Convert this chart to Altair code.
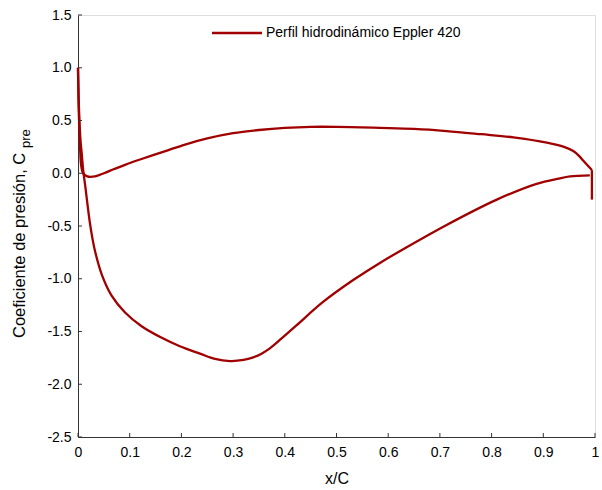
import altair as alt
import pandas as pd

# Suction side (lower curve), leading edge -> trailing edge
suction_x = [0.0, 0.002, 0.005, 0.007, 0.010, 0.014, 0.018, 0.023, 0.028, 0.033, 0.046,
             0.065, 0.091, 0.123, 0.162, 0.197, 0.236, 0.265, 0.294, 0.32, 0.339,
             0.355, 0.371, 0.395, 0.423, 0.474, 0.533, 0.584, 0.629, 0.713, 0.81,
             0.887, 0.93, 0.952, 0.99]
suction_cp = [1.0, 0.6, 0.3, 0.2, 0.03, -0.12, -0.28, -0.47, -0.62, -0.74, -0.96,
              -1.16, -1.32, -1.45, -1.56, -1.64, -1.71, -1.76, -1.78, -1.77, -1.745,
              -1.71, -1.66, -1.56, -1.44, -1.22, -1.01, -0.85, -0.72, -0.49, -0.25,
              -0.10, -0.05, -0.03, -0.02]

# Pressure side (upper curve), leading edge -> trailing edge
pressure_x = [0.0, 0.001, 0.002, 0.004, 0.006, 0.010, 0.018, 0.033, 0.05, 0.07,
              0.091, 0.12, 0.175, 0.2, 0.25, 0.3, 0.35, 0.4, 0.45, 0.5,
              0.584, 0.65, 0.713, 0.78, 0.842, 0.907, 0.94, 0.958, 0.97, 0.977,
              0.994]
pressure_cp = [1.0, 0.7, 0.5, 0.25, 0.08, 0.0, -0.03, -0.03, 0.0, 0.04,
               0.08, 0.13, 0.22, 0.26, 0.33, 0.38, 0.41, 0.43, 0.44, 0.44,
               0.43, 0.42, 0.40, 0.37, 0.34, 0.29, 0.25, 0.21, 0.16, 0.12,
               0.03]

# Trailing-edge closing segment
te_x = [0.994, 0.994]
te_cp = [0.03, -0.25]

x_ticks = [0, 0.1, 0.2, 0.3, 0.4, 0.5, 0.6, 0.7, 0.8, 0.9, 1.0]
y_ticks = [-2.5, -2.0, -1.5, -1.0, -0.5, 0.0, 0.5, 1.0, 1.5]
legend_label = "Perfil hidrodinámico Eppler 420"
y_title_main = "Coeficiente de presión, C"
y_title_sub = "pre"
x_title = "x/C"

RED = "#a00000"
AX = "#333333"
FONT = "Liberation Sans"
W, H = 517, 422

rows = []
for side, xx, cc in (("suction", suction_x, suction_cp),
                     ("pressure", pressure_x, pressure_cp),
                     ("te", te_x, te_cp)):
    for i, (x, c) in enumerate(zip(xx, cc)):
        rows.append({"side": side, "i": i, "x": x, "cp": c})
df = pd.DataFrame(rows)

xs = alt.Scale(domain=[0, 1], nice=False, zero=False)
ys = alt.Scale(domain=[-2.5, 1.5], nice=False, zero=False)

x_axis = alt.Axis(
    values=x_ticks, format="~g", title=x_title, ticks=False, grid=False,
    domainColor=AX, labelFont=FONT, labelFontSize=14, labelColor="black",
    labelPadding=8, titleFont=FONT, titleFontSize=16, titleFontWeight="normal",
    titleColor="black", titlePadding=11, labelFlush=False)
y_axis = alt.Axis(
    values=y_ticks, labelExpr="replace(format(datum.value, '.1f'), '\u2212', '-')",
    title="", ticks=False, grid=False, domainColor=AX, labelFont=FONT,
    labelFontSize=14, labelColor="black", labelPadding=7)

lines = alt.Chart(df).mark_line(
    color=RED, strokeWidth=2.3, interpolate="catmull-rom").encode(
    x=alt.X("x:Q", scale=xs, axis=x_axis),
    y=alt.Y("cp:Q", scale=ys, axis=y_axis),
    detail="side:N",
    order="i:Q",
)

xtick_df = pd.DataFrame({"x": x_ticks})
xticks = alt.Chart(xtick_df).mark_rule(color=AX, strokeWidth=1).encode(
    x=alt.X("x:Q", scale=xs, axis=x_axis), y=alt.value(H), y2=alt.value(H - 4))

ytick_df = pd.DataFrame({"cp": y_ticks})
yticks = alt.Chart(ytick_df).mark_rule(color=AX, strokeWidth=1).encode(
    y=alt.Y("cp:Q", scale=ys, axis=y_axis), x=alt.value(0), x2=alt.value(4))

leg_df = pd.DataFrame({"t": [legend_label]})
leg_line = alt.Chart(leg_df).mark_rule(color=RED, strokeWidth=2.3).encode(
    x=alt.value(134), x2=alt.value(184), y=alt.value(18))
leg_text = alt.Chart(leg_df).mark_text(
    align="left", baseline="middle", font=FONT, fontSize=14, color="black").encode(
    x=alt.value(188), y=alt.value(18), text="t:N")

yt_df = pd.DataFrame({"t": [y_title_main], "s": [y_title_sub]})
yt_main = alt.Chart(yt_df).mark_text(
    angle=270, align="left", baseline="middle", font=FONT, fontSize=16.5,
    color="black").encode(x=alt.value(-58), y=alt.value(323), text="t:N")
yt_sub = alt.Chart(yt_df).mark_text(
    angle=270, align="left", baseline="middle", font=FONT, fontSize=13,
    color="black").encode(x=alt.value(-52), y=alt.value(133), text="s:N")

chart = alt.layer(lines, xticks, yticks, leg_line, leg_text, yt_main, yt_sub).properties(
    width=W, height=H,
    autosize=alt.AutoSizeParams(type="none"),
    padding={"left": 78, "top": 15, "right": 7, "bottom": 53},
).configure_view(stroke=None).configure(background="white")

chart.save("out.html", embed_options={"renderer": "svg", "actions": False})
